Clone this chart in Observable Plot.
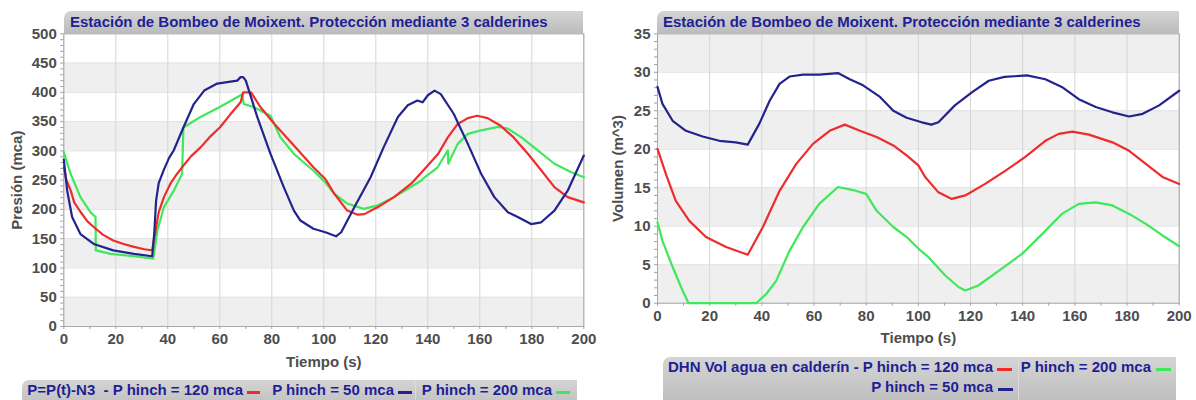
<!DOCTYPE html>
<html>
<head>
<meta charset="utf-8">
<script src="https://cdn.jsdelivr.net/npm/d3@7"></script>
<script src="https://cdn.jsdelivr.net/npm/@observablehq/plot@0.6"></script>
<style>
  html, body { margin:0; padding:0; background:#fff; }
  body { width:1196px; height:400px; position:relative; overflow:hidden; font-family:"Liberation Sans", Arial, sans-serif; }
  .chart { position:absolute; top:0; }
  .bar { position:absolute; background:linear-gradient(#d4d4d4,#bcbcbc); border-top-left-radius:7px; }
  .ttl { position:absolute; white-space:pre; color:#1f1f94; font:bold 15px "Liberation Sans", Arial, sans-serif; line-height:16px; }
  .dash { position:absolute; height:3px; }
  .sep { position:absolute; width:1px; background:#dadada; }
</style>
</head>
<body>
<div id="left" class="chart" style="left:0px"></div>
<div id="right" class="chart" style="left:598px"></div>

<div class="bar" style="left:64px; top:11px; width:519px; height:22px;"></div>
<div class="ttl" style="left:70px; top:14px;">Estación de Bombeo de Moixent. Protección mediante 3 calderines</div>
<div class="bar" style="left:657px; top:11px; width:522px; height:22px;"></div>
<div class="ttl" style="left:663px; top:14px;">Estación de Bombeo de Moixent. Protección mediante 3 calderines</div>

<div class="bar" style="left:22px; top:380px; width:555px; height:30px;"></div>
<div class="ttl" style="right:953px; top:382px;">P=P(t)-N3  - P hinch = 120 mca</div>
<div class="dash" style="left:247px; top:391px; width:13px; background:#ee2c2c;"></div>
<div class="ttl" style="right:802px; top:382px;">P hinch = 50 mca</div>
<div class="dash" style="left:398px; top:391px; width:14px; background:#23238e;"></div>
<div class="sep" style="left:415px; top:380px; height:20px;"></div>
<div class="ttl" style="right:644px; top:382px;">P hinch = 200 mca</div>
<div class="dash" style="left:556px; top:391px; width:14px; background:#3ee85a;"></div>

<div class="bar" style="left:663px; top:357px; width:513px; height:50px;"></div>
<div class="ttl" style="right:203px; top:359px;">DHN Vol agua en calderín - P hinch = 120 mca</div>
<div class="dash" style="left:997px; top:368px; width:15px; background:#ee2c2c;"></div>
<div class="sep" style="left:1018px; top:357px; height:43px;"></div>
<div class="ttl" style="right:45px; top:359px;">P hinch = 200 mca</div>
<div class="dash" style="left:1156px; top:368px; width:15px; background:#3ee85a;"></div>
<div class="ttl" style="right:203px; top:379px;">P hinch = 50 mca</div>
<div class="dash" style="left:998px; top:388px; width:15px; background:#23238e;"></div>

<script>
// ---------- Data: Presión (mca) ----------
const tRojoP = [0,1,2.6,4,6.4,9,11.5,15,19,23,27,31,34,35.3,36.5,38.5,41,43.6,46.2,49,52.6,56,60,64,68,69,72,75.6,81,88.5,96,100.6,104,109,113,115.6,120.8,127,133.6,140,144,147.7,151.5,155.4,159,163,168,173,178.5,183.6,188.7,193.8,200];
const pRojo  = [272,250,233,212,196,180,170,157,147,141,136,132,130,164,195,221,244,261,276,291,306,323,340,362,383,400,400,375,346,309,272,252,227,198,191,192,204,221,244,275,295,323,346,356,360,356,343,323,295,267,238,221,212];

const tAzulP = [0,1.3,3.2,6.4,11.5,19,27,34,34.8,35.5,36.5,38.5,40.5,42.3,46,50,54,59,66.7,68,69,70,74.4,79.5,84.6,88.5,91,96,100.6,104.7,106.7,111.8,118,123,128.5,132.3,136,138,140,142.6,145,150,155.4,160.5,165.6,170.8,174.6,179.7,183.6,188.7,193.8,200];
const pAzul  = [285,232,187,158,141,130,124,120,160,215,245,268,288,301,340,380,403,415,420,426,426,420,358,295,238,198,181,167,161,154,161,204,255,306,358,378,386,383,395,403,397,363,312,261,221,195,187,175,178,198,232,292];

const tVerdeP = [0,2.6,6.4,10.3,12.2,12.3,18,27,34.4,36,38.5,42.3,45.5,46,52.6,60,68,68.6,69.2,73,79.5,83.3,88.5,96,100.6,104,109,115.4,120.8,127,137.4,138,143.8,147.7,147.9,149,151.5,155.4,160.5,167,170.8,176,182.3,188.7,195,200];
const pVerde  = [298,261,221,195,187,130,124,120,116,164,204,232,261,340,358,375,395,397,380,375,360,323,295,266,246,227,210,201,207,221,249,252,272,301,278,289,312,329,335,341,338,323,301,278,264,255];

// ---------- Data: Volumen (m^3) ----------
const tAzulV = [0,1.9,5.8,10.9,17.3,23.7,30,34.6,39,43,46.8,50.6,55.8,62,69.2,73.7,78.8,85.3,90.4,95.5,101.3,105,107.7,114,120.5,127,133,141.7,148.7,155,161.5,168,174.4,180.8,186,192.3,200];
const vAzul  = [28.1,25.9,23.7,22.4,21.65,21.1,20.9,20.6,23.3,26.3,28.5,29.45,29.7,29.7,29.9,29.1,28.3,26.8,25.0,24.1,23.5,23.2,23.5,25.7,27.4,28.9,29.4,29.6,29.1,28.1,26.5,25.5,24.8,24.25,24.6,25.7,27.6];

const tRojoV = [0,3.2,7,12.2,18.6,26.3,34.6,40.4,46.8,53.2,59.6,66,71.8,77.6,84,90.4,95.5,100,102.6,107.7,112.8,118,125.6,133.3,141,148.7,153.8,159,165.4,174.4,180.8,187.2,193.6,200];
const vRojo  = [20.05,16.8,13.3,10.7,8.6,7.3,6.3,9.9,14.6,18.1,20.7,22.4,23.2,22.4,21.6,20.5,19.2,17.9,16.4,14.4,13.55,14.0,15.5,17.2,19.0,21.1,22.0,22.3,21.9,20.9,19.8,18.1,16.4,15.5];

const tVerdeV = [0,1.9,5.8,9.6,11.9,37.8,41.7,45.5,50.6,55.8,62,69.2,75,80,84,90.4,95.5,100,103.8,110.3,115.4,118,123,130.8,139.7,148.7,155,161.5,168,174.4,180.8,187.2,193.6,200];
const vVerde  = [10.5,8.1,4.7,1.65,0,0,1.2,2.9,6.8,9.9,12.9,15.1,14.7,14.2,12.0,9.9,8.6,7.1,6.0,3.6,2.1,1.65,2.3,4.2,6.4,9.4,11.6,12.9,13.1,12.7,11.6,10.3,8.8,7.4];

// ---------- Ticks / bands ----------
const ticksX = [0,20,40,60,80,100,120,140,160,180,200];
const minorX = [0,10,20,30,40,50,60,70,80,90,100,110,120,130,140,150,160,170,180,190,200];
const ticksYP = [0,50,100,150,200,250,300,350,400,450,500];
const ticksYV = [0,5,10,15,20,25,30,35];
const bandsP = [0,100,200,300,400];
const bandsV = [0,10,20,30];

const rojo = "#ee2c2c", azul = "#23238e", verde = "#3ee85a";
const rows = (ts, vs) => ts.map((t, i) => ({t, v: vs[i]}));

function chart(o) {
  const step = o.yTicks[1] - o.yTicks[0];
  const minorY = d3.range(o.yTicks[0], o.yTicks[o.yTicks.length - 1] + 1e-9, step / 5);
  return Plot.plot({
    width: o.width, height: o.height,
    marginLeft: o.ml, marginRight: o.mr, marginTop: o.mt, marginBottom: o.mb,
    x: {domain: [0, 200]},
    y: {domain: [0, o.yTicks[o.yTicks.length - 1]]},
    style: {fontFamily: '"Liberation Sans", Arial, sans-serif', fontSize: "15px", fontWeight: "bold", color: "#4d4d4d", background: "transparent", overflow: "visible"},
    marks: [
      Plot.rect(o.bands, {x1: 0, x2: 200, y1: d => d, y2: d => d + step, fill: "#efefef"}),
      Plot.ruleY(o.yTicks, {stroke: "#e2e2e2"}),
      Plot.ruleX(ticksX, {stroke: "#d6d6d6"}),
      Plot.frame({stroke: "#a8a8a8"}),
      Plot.axisX({ticks: minorX, tickSize: 3, tickFormat: () => "", label: null, stroke: "#a0a0a0"}),
      Plot.axisX({ticks: ticksX, tickSize: 0, tickPadding: 7, label: "Tiempo (s)", labelAnchor: "center", labelArrow: "none", labelOffset: o.xlo}),
      Plot.axisY({ticks: minorY, tickSize: 3, tickFormat: () => "", label: null, stroke: "#a0a0a0"}),
      Plot.axisY({ticks: o.yTicks, tickSize: 0, tickPadding: 7, label: o.ylabel, labelAnchor: "center", labelArrow: "none", labelOffset: o.ylo}),
      ...o.series.map(s => Plot.line(s.data, {x: "t", y: "v", stroke: s.color, strokeWidth: 2.2, curve: "linear"}))
    ]
  });
}

document.getElementById("left").append(chart({
  width: 600, height: 372, ml: 63.3, mr: 16.7, mt: 33.3, mb: 46,
  yTicks: ticksYP, bands: bandsP, ylabel: "Presión (mca)", ylo: 52, xlo: 40,
  series: [
    {data: rows(tVerdeP, pVerde), color: verde},
    {data: rows(tRojoP, pRojo), color: rojo},
    {data: rows(tAzulP, pAzul), color: azul}
  ]
}));

document.getElementById("right").append(chart({
  width: 598, height: 346, ml: 59, mr: 17.3, mt: 33.3, mb: 43.3,
  yTicks: ticksYV, bands: bandsV, ylabel: "Volumen (m^3)", ylo: 45, xlo: 40,
  series: [
    {data: rows(tVerdeV, vVerde), color: verde},
    {data: rows(tRojoV, vRojo), color: rojo},
    {data: rows(tAzulV, vAzul), color: azul}
  ]
}));
</script>
</body>
</html>
